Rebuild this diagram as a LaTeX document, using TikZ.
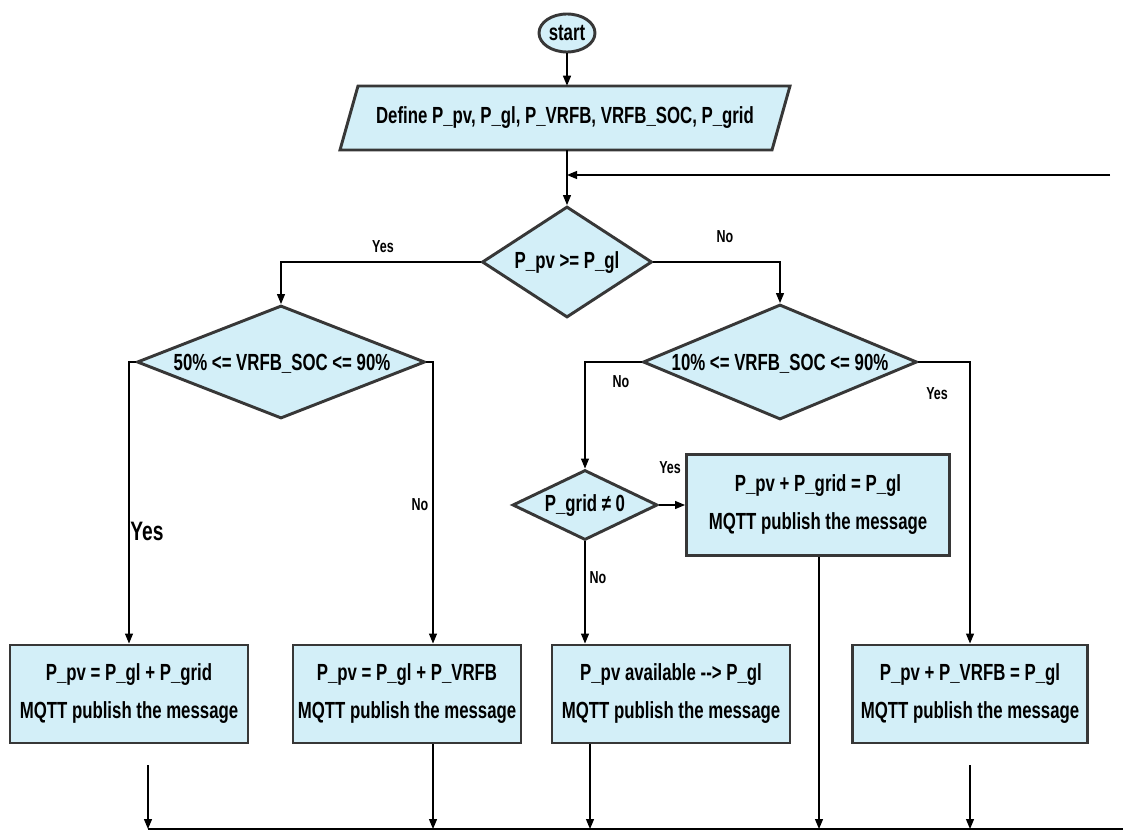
\documentclass[tikz,border=0pt]{standalone}
\usepackage{fontspec}
\newfontfamily\nf{Liberation Sans}[FakeStretch=0.72]
\usetikzlibrary{shapes.geometric,arrows.meta,calc}
\definecolor{boxfill}{RGB}{211,239,248}
\definecolor{boxline}{RGB}{55,55,55}
\tikzset{
 base/.style={draw=boxline, line width=2.2pt, fill=boxfill, inner sep=0pt},
 procbox/.style={base, rectangle, align=center, font=\nf\bfseries\fontsize{17.5}{28.5}\selectfont},
 decision/.style={base, diamond},
 txt/.style={inner sep=0pt, font=\nf\bfseries\fontsize{17.5}{20}\selectfont},
 lbl/.style={inner sep=0pt, font=\nf\bfseries\fontsize{13}{15}\selectfont},
 biglbl/.style={inner sep=0pt, font=\nf\bfseries\fontsize{20}{22}\selectfont},
 arr/.style={draw=black, line width=0.9pt, -{Triangle[length=7.5pt,width=6pt]}},
 ln/.style={draw=black, line width=0.9pt},
}
\begin{document}
\begin{tikzpicture}[x=0.75pt,y=-0.75pt]
\useasboundingbox (0,0) rectangle (1123,834);
% start
\node[base, ellipse, minimum width=42pt, minimum height=28.5pt, font=\nf\bfseries\fontsize{17.5}{20}\selectfont] (start) at (567,33) {start};
% define (parallelogram)
\draw[base] (358,86) -- (790,86) -- (772,150) -- (340,150) -- cycle;
\node[txt, minimum width=324pt, minimum height=48pt] (def) at (565,118) {Define P\_pv, P\_gl, P\_VRFB, VRFB\_SOC, P\_grid};
% decisions
\node[decision, minimum width=127.5pt, minimum height=83.25pt] (d1) at (567,262) {};
\node[txt] (d1t) at (567,263) {P\_pv >= P\_gl};
\node[decision, minimum width=216pt, minimum height=84.75pt] (d2) at (281,362) {};
\node[txt] (d2t) at (282,364) {50\% <= VRFB\_SOC <= 90\%};
\node[decision, minimum width=205.5pt, minimum height=86.25pt] (d3) at (780,362) {};
\node[txt] (d3t) at (780,364) {10\% <= VRFB\_SOC <= 90\%};
\node[decision, minimum width=108.75pt, minimum height=52.5pt] (d4) at (585,505) {};
\node[txt] (d4t) at (585,506) {P\_grid ≠ 0};
% process boxes
\node[procbox, minimum width=178.5pt, minimum height=73.5pt] (box1) at (129,694) {P\_pv = P\_gl + P\_grid\\MQTT publish the message};
\node[procbox, minimum width=171pt, minimum height=73.5pt] (box2) at (407,694) {P\_pv = P\_gl + P\_VRFB\\MQTT publish the message};
\node[procbox, minimum width=178.5pt, minimum height=73.5pt] (box3) at (671,694) {P\_pv available -{}-> P\_gl\\MQTT publish the message};
\node[procbox, minimum width=197.25pt, minimum height=75.75pt] (box4) at (818,505) {P\_pv + P\_grid = P\_gl\\MQTT publish the message};
\node[procbox, minimum width=176.25pt, minimum height=73.5pt] (box5) at (970,694) {P\_pv + P\_VRFB = P\_gl\\MQTT publish the message};
% connectors
\draw[arr] (start.south) -- (start.south |- def.north);
\draw[arr] (def.south -| d1.north) -- (d1.north);
\coordinate (fb) at (1110,175);
\draw[arr] (fb) -- (fb -| d1.north);
\draw[arr] (d1.west) -| (d2.north);
\draw[arr] (d1.east) -| (d3.north);
\draw[arr] (d2.west) -| (box1.north);
\coordinate (x2) at (433,0);
\draw[arr] (d2.east) -| (x2 |- box2.north);
\draw[arr] (d3.west) -| (d4.north);
\draw[arr] (d3.east) -| (box5.north);
\draw[arr] (d4.east) -- (box4.west);
\draw[arr] (d4.south) -- (d4.south |- box3.north);
% bottom collector
\coordinate (bl) at (148,829);
\coordinate (br) at (1123,829);
\draw[ln] (bl) -- (br);
\coordinate (s1) at (148,765);
\draw[arr] (s1) -- (s1 |- bl);
\draw[arr] (box2.south -| x2) -- (x2 |- bl);
\coordinate (x3) at (590,0);
\draw[arr] (box3.south -| x3) -- (x3 |- bl);
\coordinate (x4) at (819,0);
\draw[arr] (box4.south -| x4) -- (x4 |- bl);
\coordinate (s5) at (970,765);
\draw[arr] (s5) -- (s5 |- bl);
% labels
\node[lbl] (l1) at (383,247) {Yes};
\node[lbl] (l2) at (725,237) {No};
\node[biglbl] (l3) at (147,531) {Yes};
\node[lbl] (l4) at (420,505) {No};
\node[lbl] (l5) at (621,382) {No};
\node[lbl] (l6) at (937,394) {Yes};
\node[lbl] (l7) at (670,468) {Yes};
\node[lbl] (l8) at (598,578) {No};
\end{tikzpicture}
\end{document}
